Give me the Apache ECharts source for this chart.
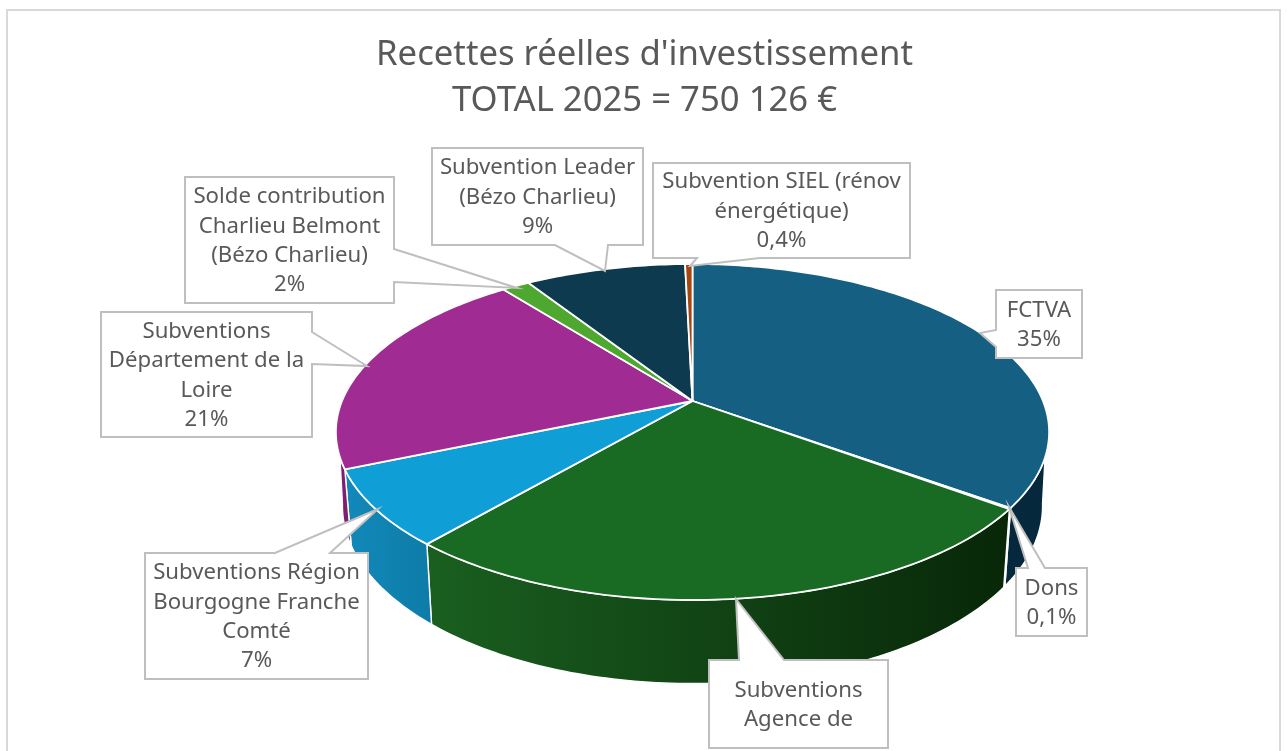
<!DOCTYPE html>
<html><head><meta charset="utf-8">
<style>html,body{margin:0;padding:0;background:#fff;overflow:hidden}#c{width:1287px;height:751px}</style>
<script src="https://cdn.jsdelivr.net/npm/echarts@6/dist/echarts.min.js"></script>
</head><body><div id="c"></div>
<script>
const titleLines = ["Recettes réelles d'investissement", "TOTAL 2025 = 750 126 €"];
const categories = ["FCTVA","Dons","Subventions Agence de","Subventions Région Bourgogne Franche Comté","Subventions Département de la Loire","Solde contribution Charlieu Belmont (Bézo Charlieu)","Subvention Leader (Bézo Charlieu)","Subvention SIEL (rénov énergétique)"];
const labelLines = [["FCTVA"],["Dons"],["Subventions","Agence de"],["Subventions Région","Bourgogne Franche","Comté"],["Subventions","Département de la","Loire"],["Solde contribution","Charlieu Belmont","(Bézo Charlieu)"],["Subvention Leader","(Bézo Charlieu)"],["Subvention SIEL (rénov","énergétique)"]];
const values = [35, 0.1, 26.2, 7.3, 20.8, 1.5, 8.7, 0.4];
const percentLabels = ["35%","0,1%",null,"7%","21%","2%","9%","0,4%"];
const topColors = ["#156082","#E97132","#196B24","#0F9ED5","#A02B93","#4EA72E","#0D3A4E","#A5450F"];
const wallColors = [["#06283C","#06283C"],["#7a3a10","#7a3a10"],["#1A5F20","#082708"],["#1189BA","#0E7CA8"],["#7E1F74","#7E1F74"],["#2f6a1c","#2f6a1c"],["#07202c","#07202c"],["#5e2808","#5e2808"]];

// Perspective of the pie disc, top face and bottom face
const topFace = {cx:692.5, cy:401, a:350.5, b:162.3, p:0.1845, from:109, to:251};
const baseFace = {cx:692.5, cy:473, a:344, b:171.5, p:0.1855, from:100, to:260};
function project(deg, f){
  const t = deg*Math.PI/180, x = Math.sin(t), y = -Math.cos(t), w = 1 - f.p*y;
  return [f.cx + f.a*x/w, f.cy + f.b*y/w];
}
function arc(a, b, f){
  const n = Math.max(1, Math.ceil(Math.abs(b-a))), pts = [];
  for(let i=0;i<=n;i++) pts.push(project(a+(b-a)*i/n, f));
  return pts;
}
const total = values.reduce((s,v)=>s+v,0);
function angles(i){
  let s = 0; for(let k=0;k<i;k++) s += values[k];
  return [s/total*360, (s+values[i])/total*360];
}
function renderTop(params, api){
  const [a,b] = angles(params.dataIndex);
  const pts = [[topFace.cx, topFace.cy]].concat(arc(a,b,topFace));
  return {type:'polygon', shape:{points:pts}, style:{fill:topColors[params.dataIndex], stroke:'#fff', lineWidth:1.8, lineJoin:'round'}};
}
function renderWall(params, api){
  const i = params.dataIndex, [a,b] = angles(i);
  const ta = Math.max(a,topFace.from), tb = Math.min(b,topFace.to);
  const ba = Math.max(a,baseFace.from), bb = Math.min(b,baseFace.to);
  if(ba >= bb) return null;
  const up = ta < tb ? arc(ta,tb,topFace) : [project(ba,topFace)];
  const pts = up.concat(arc(bb,ba,baseFace));
  const xs = pts.map(p=>p[0]);
  return {type:'polygon', shape:{points:pts}, style:{
    fill:{type:'linear', x:Math.min(...xs), y:0, x2:Math.max(...xs), y2:0, global:true,
      colorStops:[{offset:0,color:wallColors[i][0]},{offset:1,color:wallColors[i][1]}]},
    stroke:'#fff', lineWidth:1.4, lineJoin:'round'}};
}
// Callouts: box [left, top, right, bottom], wedge side and its three points
const boxes = [[996,290,1082,358],[1016,568,1087,636],[709,660,888,748],[145,553,368,679],[101,312,312,437],[185,177,394,303],[432,148,643,245],[653,163,910,258]];
const wedges = [
  {side:'left', pts:[[996,347],[980,333],[996,330]]},
  {side:'top', pts:[[1028,568],[1009,507],[1045,568]]},
  {side:'top', pts:[[739,660],[736,599],[784,660]]},
  {side:'top', pts:[[275,553],[378,509],[330,553]]},
  {side:'right', pts:[[312,332],[367,366],[312,364]]},
  {side:'right', pts:[[394,249],[517,288],[394,282]]},
  {side:'bottom', pts:[[608,245],[605,271],[555,245]]},
  {side:'bottom', pts:[[760,258],[690,266],[697,258]]}
];
function calloutOutline(i){
  const [l,t,r,b] = boxes[i], w = wedges[i], p = w.pts, out = [];
  out.push([l,t]);
  if(w.side==='top') out.push(...p);
  out.push([r,t]);
  if(w.side==='right') out.push(...p);
  out.push([r,b]);
  if(w.side==='bottom') out.push(...p);
  out.push([l,b]);
  if(w.side==='left') out.push(...p);
  return out;
}
const FONT = '"Noto Sans", sans-serif';
function renderCallout(params, api){
  const i = params.dataIndex, [l,t,r,b] = boxes[i];
  const lines = labelLines[i].concat(percentLabels[i] ? [percentLabels[i]] : []);
  return {type:'group', children:[
    {type:'polygon', shape:{points:calloutOutline(i)}, style:{fill:'#fff', stroke:'#BFBFBF', lineWidth:2, lineJoin:'miter'}},
    {type:'text', style:{x:(l+r)/2, y:(t+b)/2+1, text:lines.join('\n'), align:'center', verticalAlign:'middle', fill:'#595959', font:'22.2px '+FONT, lineHeight:29.4}}
  ]};
}
const seriesData = categories.map((name,i)=>({name, value:values[i]}));
const chart = echarts.init(document.getElementById('c'), null, {renderer:'canvas', width:1287, height:751});
chart.setOption({
  animation:false,
  backgroundColor:'#fff',
  title:{text:titleLines.join('\n'), left:639.5, top:27, textAlign:'center',
    textStyle:{fontFamily:'"Noto Sans", sans-serif', fontSize:34.7, fontWeight:'normal', color:'#595959', lineHeight:46}},
  tooltip:{show:false},
  graphic:[{type:'rect', silent:true, z:-1, shape:{x:7,y:10,width:1273,height:760}, style:{fill:'#fff',stroke:'#D9D9D9',lineWidth:2}}],
  series:[
    {type:'custom', name:'Parois', coordinateSystem:'none', z:2, silent:true, data:seriesData, renderItem:renderWall},
    {type:'custom', name:'Recettes', coordinateSystem:'none', z:3, silent:true, data:seriesData, renderItem:renderTop},
    {type:'custom', name:'Étiquettes', coordinateSystem:'none', z:4, silent:true, data:seriesData, renderItem:renderCallout}
  ]
});
</script></body></html>
